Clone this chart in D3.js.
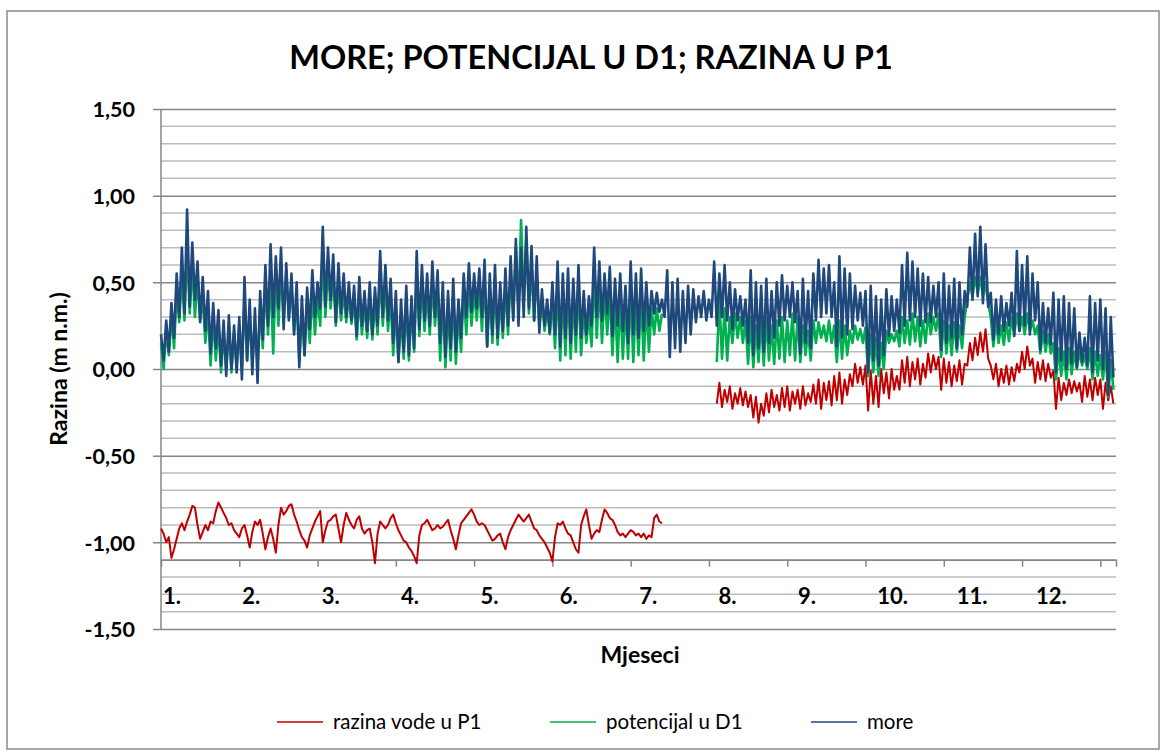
<!DOCTYPE html>
<html>
<head>
<meta charset="utf-8">
<script src="https://cdn.jsdelivr.net/npm/d3@7"></script>
<style>
  body { margin: 0; background: #fff; }
  text { font-family: Lato, "Open Sans", sans-serif; }
</style>
</head>
<body>
<script>

// dnevne vrijednosti (cm), dan 0..365, null = nema mjerenja
let more = [20, 5, 28,
  10, 38, 18, 55, 30, 70, 32,
  92, 36,
  73, 40, 62, 27,
  53, 22, 45, 9, 38,
  12, 34, 2, 28, -4, 31, 0, 25, -2, 30,
  -6, 53, 5, 40, -3, 35, -8,
  45, 17, 60, 25, 72, 30, 65, 35, 70,
  23, 61, 28, 55, 20,
  50, 1, 42, 8, 47,
  23, 57, 30, 50, 35,
  82, 36, 70, 40, 66,
  27, 61, 32, 55, 30, 50, 28, 48,
  19, 53, 25, 45, 22, 50, 20, 47,
  25, 68, 30, 60, 28,
  52, 15, 45, 4, 40, 10, 48, 8, 42, 12,
  68, 23, 60, 28, 55, 25, 62, 30,
  57, 15, 50, 7, 45, 12, 52, 10, 40, 18, 55,
  30, 61, 33, 55, 35, 58, 30,
  63, 13, 55, 20, 60, 18, 50, 22, 58, 25,
  65, 28, 75, 25, 70, 30, 82, 35,
  71, 28, 65, 21, 46, 25, 40, 21,
  50, 20, 62, 13, 55, 18, 58, 15, 52, 20, 60, 18,
  45, 20, 42,
  25, 70, 30, 62, 28, 55, 32,
  59, 19, 52, 25, 55, 22, 48,
  15, 62, 20, 55, 18, 58, 22, 50, 25, 45,
  32, 44, 33, 40, 30,
  57, 7, 50, 12, 52, 10, 45, 15, 48, 20,
  46, 27, 42, 30, 45, 28, 40, 30,
  62, 25, 55, 30, 60, 28, 50,
  23, 46, 28, 42, 25, 40,
  15, 57, 8, 50, 12, 48, 10, 52, 15, 45, 18, 50,
  25, 54, 28, 48, 30, 50, 27, 45,
  9, 52, 15, 45, 12,
  55, 28, 63, 30, 58, 32, 60, 30, 50,
  13, 65, 18, 58, 20, 55,
  23, 48, 28, 44, 25, 45,
  -2, 48, 5, 42, 2, 40, 8,
  46, 19, 42, 22, 40,
  21, 60, 25, 67, 28, 62, 30, 58, 25, 55, 27,
  53, 27, 48, 30, 50,
  11, 55, 15, 48, 18, 52, 12, 50, 20, 45,
  36, 70, 40, 78, 42, 82, 38, 72, 36,
  44, 17, 40, 20, 42, 22, 38, 25, 44,
  19, 68, 22, 60, 25, 65, 20, 55, 28, 50,
  11, 38, 15, 35, 14,
  44, -2, 40, 5, 42, 0, 38, 3, 35,
  1, 21, 4, 18, 2,
  42, -2, 38, 5, 40, 0, 35,
  -15, 30, -5];

let potencijal = [15, 0, 22,
  8, 30, 12, 45, 27, 55, 28,
  70, 32,
  60, 30, 52, 28,
  42, 15, 35, 2, 30,
  5, 25, -2, 20, 0, 24, -2, 20, 2, 25,
  1, 40, 5, 32, 3, 28, 2,
  35, 12, 50, 20, 55, 9, 58, 25, 60,
  28, 55, 30, 48, 22,
  40, 5, 35, 8, 38,
  15, 45, 20, 42, 25,
  65, 30, 60, 35, 55,
  25, 50, 28, 45, 27, 42, 26, 40,
  17, 42, 20, 38, 18, 40, 17, 38,
  20, 55, 25, 50, 22,
  42, 8, 35, 4, 32, 6, 38, 5, 35, 10,
  55, 19, 50, 22, 45, 20, 50, 25,
  45, 5, 40, 1, 35, 5, 42, 3, 32, 10, 45,
  20, 50, 25, 45, 28, 48, 22,
  52, 13, 45, 15, 50, 14, 42, 18, 48, 20,
  55, 30, 70, 35, 86, 38, 75, 32,
  60, 28, 55, 25, 40, 22, 35, 20,
  40, 12, 50, 5, 45, 8, 48, 6, 42, 10, 50, 8,
  35, 15, 32,
  13, 55, 18, 50, 15, 45, 20,
  45, 8, 40, 4, 42, 6, 38,
  6, 45, 4, 40, 8, 42, 5, 38, 10, 35,
  20, 35, 22, 32,
  null, null, null, null, null, null, null, null, null, null,
  null, null, null, null, null, null, null, null, null, null,
  4, 40, 6, 35, 5, 30,
  15, 32, 18, 30, 15, 28,
  3, 30, 1, 25, 4, 28, 2, 30, 5, 25, 3, 28,
  6, 30, 4, 28, 8, 32, 5, 30,
  4, 25, 8, 22, 5,
  28, 15, 27, 18, 25, 16, 28, 15, 25,
  4, 28, 6, 25, 8, 22,
  15, 25, 17, 23, 15, 24,
  -4, 20, -2, 18, -4, 15, 0,
  22, 15, 20, 16, 22,
  13, 30, 15, 28, 14, 32, 16, 30, 13, 28, 15,
  32, 20, 30, 22, 32,
  7, 28, 9, 25, 8, 27, 10, 25, 12, 30,
  40, 50, 42, 53, 44, 53, 42, 50, 38,
  30, 13, 28, 15, 25, 14, 27, 16, 30,
  20, 32, 22, 30, 20, 32, 22, 28, 20, 25,
  9, 22, 10, 20, 9,
  15, -6, 12, -4, 10, -6, 12, -3, 10,
  0, 10, 2, 8, 0,
  12, -6, 10, -4, 8, -6, 10,
  -16, 5, -12];

let razina = [-92, -95, -100, -97, -109, -104, -98, -92, -89, -93,
  -88, -84, -79, -80, -90, -98, -94, -90, -93, -88,
  -89, -82, -77, -80, -83, -86, -90, -89, -93, -95,
  -97, -92, -90, -96, -103, -94, -88, -90, -87, -95,
  -104, -97, -92, -98, -106, -90, -80, -84, -82, -79,
  -78, -84, -88, -93, -97, -99, -103, -96, -92, -88,
  -85, -82, -100, -93, -88, -87, -85, -84, -92, -100,
  -90, -83, -87, -90, -92, -87, -85, -92, -95, -93,
  -92, -100, -112, -95, -88, -90, -92, -90, -86, -84,
  -89, -93, -96, -99, -100, -103, -105, -108, -112, -96,
  -90, -89, -87, -90, -93, -92, -90, -92, -91, -89,
  -87, -93, -98, -104, -96, -89, -87, -85, -83, -81,
  -84, -88, -90, -89, -90, -93, -96, -99, -98, -96,
  -95, -100, -104, -97, -93, -90, -87, -84, -86, -88,
  -86, -84, -88, -92, -93, -96, -98, -100, -103, -106,
  -111, -97, -89, -90, -88, -92, -95, -96, -100, -104,
  -106, -90, -85, -81, -90, -98, -95, -93, -94, -87,
  -81, -83, -86, -87, -90, -94, -96, -95, -97, -95,
  -93, -94, -96, -95, -97, -95, -98, -96, -97, -86,
  -84, -88, -89,
  null, null, null, null, null, null, null, null, null, null,
  null, null, null, null, null, null, null, null, null, null,
  -20, -8, -22, -12, -19, -10, -23, -14, -20, -11, -21, -13, -22, -15,
  -28, -16, -31, -20, -27,
  -14, -25, -12, -22, -15, -24,
  -11, -22, -10, -24, -13, -20, -12, -23, -10, -21, -14, -19, -9,
  -20, -6, -23, -8, -18, -7, -21,
  -4, -18, -2, -20, -6, -15, -3,
  -10, 3, -8, 1, -9, 2,
  -24, -1, -20, -4, -22,
  0, -14, -2, -17, 0, -12, -4,
  -12, 5, -8, 7, -10, 4, -6, 6, -9, 3, -5,
  9, -2, 8, 0, 7,
  -12, 6, -8, 4, -10, 2, -7, 5, -9, 3,
  2, 15, 5, 18, 8, 21, 10, 23, 6,
  2, -6,
  3, -10, 0, -8, 2, -9, 1, -7, 3,
  -2, 10, 0, 13, 2,
  6, -8, 4, -6, 5, -7, 3, -5,
  -1, -23, -5, -18, -8,
  -15, -6, -14, -7, -13, -8,
  -19, -4, -16, -6, -18, -5, -15,
  -6, -23, -8, -18, -10, -20];

let mjeseci = ["1.", "2.", "3.", "4.", "5.", "6.", "7.", "8.", "9.", "10.", "11.", "12."];
let yTicks = [-1.5, -1.0, -0.5, 0, 0.5, 1.0, 1.5];

let serije = [
  { name: "razina vode u P1", values: razina, color: "#C00000", w: 2 },
  { name: "potencijal u D1", values: potencijal, color: "#00B050", w: 2.6 },
  { name: "more", values: more, color: "#1F497D", w: 2.6 }
];

let svg = d3.select("body").append("svg")
    .attr("width", 1166)
    .attr("height", 756);

// okvir grafikona
svg.append("rect")
    .attr("x", 7).attr("y", 11)
    .attr("width", 1152).attr("height", 738)
    .attr("fill", "#fff")
    .attr("stroke", "#8c8c8c")
    .attr("stroke-width", 1.5);

let x = d3.scaleLinear().domain([0, 366]).range([161, 1116]);
let y = d3.scaleLinear().domain([-1.5, 1.5]).range([629, 109]);

// pomocne linije
let minor = d3.range(-15, 16).filter(function (d) { return d % 5 != 0; }).map(function (d) { return d / 10; });
svg.append("g").selectAll("line")
    .data(minor)
    .enter().append("line")
    .attr("x1", x(0)).attr("x2", x(366))
    .attr("y1", function (d) { return y(d); })
    .attr("y2", function (d) { return y(d); })
    .attr("stroke", "#bdbdbd")
    .attr("stroke-width", 1.5);

// glavne linije + os y
let yAxis = d3.axisLeft(y)
    .tickValues(yTicks)
    .tickSize(-(x(366) - x(0)))
    .tickFormat(function (d) { return d3.format(".2f")(d).replace(".", ",").replace("\u2212", "-"); });
let gy = svg.append("g").attr("transform", "translate(" + x(0) + ",0)").call(yAxis);
gy.select(".domain").remove();
gy.selectAll(".tick line")
    .attr("x1", -8)
    .attr("stroke", "#868686")
    .attr("stroke-width", 1.5);
gy.selectAll(".tick text")
    .attr("x", -26)
    .attr("dy", "0.36em")
    .attr("fill", "#000")
    .style("font-size", "21.5px")
    .style("font-weight", "bold")
    .style("font-family", "Lato");

// lijeva os
svg.append("line")
    .attr("x1", x(0)).attr("x2", x(0))
    .attr("y1", y(1.5)).attr("y2", y(-1.5))
    .attr("stroke", "#868686")
    .attr("stroke-width", 1.5);

// os x (sijece na -1,1)
let xAxis = d3.axisBottom(x)
    .tickValues(d3.range(30, 366, 30))
    .tickSize(7)
    .tickFormat("");
let gx = svg.append("g").attr("transform", "translate(0," + y(-1.1) + ")").call(xAxis);
gx.select(".domain").attr("stroke", "#868686").attr("stroke-width", 1.5);
gx.selectAll(".tick line").attr("stroke", "#868686").attr("stroke-width", 1.5);

svg.append("g").selectAll("text")
    .data(mjeseci)
    .enter().append("text")
    .attr("x", function (d, i) { return x(i * 365 / 12) + 2; })
    .attr("y", 604)
    .style("font-size", "22px")
    .style("font-weight", "bold")
    .text(function (d) { return d; });

// serije
let line = d3.line()
    .defined(function (d) { return d != null; })
    .x(function (d, i) { return x(i); })
    .y(function (d) { return y(d / 100); });

svg.append("g").selectAll("path")
    .data(serije)
    .enter().append("path")
    .attr("d", function (d) { return line(d.values); })
    .attr("fill", "none")
    .attr("stroke", function (d) { return d.color; })
    .attr("stroke-width", function (d) { return d.w; })
    .attr("stroke-linejoin", "round");

// naslovi
svg.append("text")
    .attr("x", 591).attr("y", 69)
    .attr("text-anchor", "middle")
    .style("font-size", "32.5px")
    .style("font-weight", "bold")
    .text("MORE; POTENCIJAL U D1; RAZINA U P1");

svg.append("text")
    .attr("x", 640).attr("y", 663)
    .attr("text-anchor", "middle")
    .style("font-size", "23px")
    .style("font-weight", "bold")
    .text("Mjeseci");

svg.append("text")
    .attr("transform", "translate(67,369) rotate(-90)")
    .attr("text-anchor", "middle")
    .style("font-size", "23px")
    .style("font-weight", "bold")
    .text("Razina (m n.m.)");

// legenda
let legX = [277, 550, 811];
let leg = svg.append("g").selectAll("g")
    .data(serije)
    .enter().append("g")
    .attr("transform", function (d, i) { return "translate(" + legX[i] + ",722)"; });
leg.append("line")
    .attr("x1", 0).attr("x2", 46)
    .attr("stroke", function (d) { return d.color; })
    .attr("stroke-width", 1.5);
leg.append("text")
    .attr("x", 56)
    .attr("dy", "0.35em")
    .style("font-size", "20.5px")
    .text(function (d) { return d.name; });

</script>
</body>
</html>
